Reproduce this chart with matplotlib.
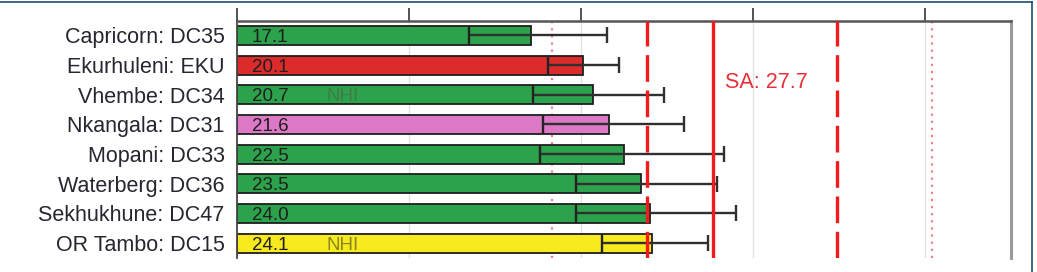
import matplotlib
matplotlib.use("Agg")
import matplotlib.pyplot as plt
from matplotlib.lines import Line2D

plt.rcParams['font.family'] = ['Liberation Sans', 'DejaVu Sans']

labels = ["Capricorn: DC35", "Ekurhuleni: EKU", "Vhembe: DC34", "Nkangala: DC31",
          "Mopani: DC33", "Waterberg: DC36", "Sekhukhune: DC47", "OR Tambo: DC15"]
values = [17.1, 20.1, 20.7, 21.6, 22.5, 23.5, 24.0, 24.1]
ci_low = [13.5, 18.1, 17.2, 17.8, 17.6, 19.7, 19.7, 21.2]
ci_high = [21.5, 22.2, 24.8, 26.0, 28.3, 27.9, 29.0, 27.4]
bar_colors = ["#2ca24c", "#db2b2b", "#2ca24c", "#dc78c6",
              "#2ca24c", "#2ca24c", "#2ca24c", "#f7ea1e"]
nhi_flags = [False, False, True, False, False, False, False, True]
nhi_colors = {2: "#3f7a47", 7: "#8a861e"}
sa_value = 27.7
dashed_lines = [23.85, 34.9]
dotted_lines = [18.3, 40.4]
xticks = [0, 10, 20, 30, 40]
xmax = 45

fig = plt.figure(figsize=(10.37, 2.72), dpi=100)
ax = fig.add_axes([237/1037, 1-258/272, (1011-237)/1037, (258-20.5)/272])

n = len(labels)
ys = list(range(n))
bh = 0.64

for x in xticks[1:]:
    ax.axvline(x, color="#e2e2e2", lw=1, zorder=0)

ax.barh(ys, values, height=bh, color=bar_colors, edgecolor="#1e1e1e", linewidth=1.3, zorder=2)

for y, lo, hi in zip(ys, ci_low, ci_high):
    ax.hlines(y, lo, hi, color="#303030", lw=1.7, zorder=3)
    ax.vlines(lo, y - bh/2, y + bh/2, color="#222222", lw=1.7, zorder=3)
    ax.vlines(hi, y - bh*0.42, y + bh*0.42, color="#303030", lw=1.7, zorder=3)

for y, v in zip(ys, values):
    ax.text(0.85, y, f"{v:.1f}", ha="left", va="center_baseline", fontsize=13.5,
            color="#1e1e1e", zorder=4)
for i, f in enumerate(nhi_flags):
    if f:
        ax.text(5.2, i, "NHI", ha="left", va="center_baseline", fontsize=13.5,
                color=nhi_colors[i], zorder=4)

for x in dotted_lines:
    ax.axvline(x, color="#e8848f", lw=1.6, ls=(0, (1, 2.2)), zorder=1)
for x in dashed_lines:
    ax.axvline(x, color="#f21a1a", lw=2.4, ls=(0, (8, 2.6)), zorder=5)
ax.axvline(sa_value, color="#f21a1a", lw=2.4, zorder=5)
ax.text(sa_value + 0.7, 1.5, f"SA: {sa_value}", ha="left", va="center_baseline",
        fontsize=15.5, color="#e8303a")

ax.set_xlim(0, xmax)
ax.set_ylim(n - 0.5, -0.5)
ax.set_yticks(ys)
ax.set_yticklabels(labels, fontsize=15.5, color="#262630")
ax.tick_params(axis="y", length=0, pad=9)
ax.xaxis.tick_top()
ax.set_xticks(xticks)
ax.set_xticklabels([])
ax.tick_params(axis="x", direction="out", length=9.5, width=1.3, color="#444444")

ax.spines["bottom"].set_visible(False)
ax.spines["top"].set_color("#555555")
ax.spines["top"].set_linewidth(1.8)
ax.spines["left"].set_color("#444444")
ax.spines["left"].set_linewidth(1.3)
ax.spines["right"].set_color("#9a9a9a")
ax.spines["right"].set_linewidth(2.2)

fig.add_artist(Line2D([0, 1032/1037], [1-1.5/272, 1-1.5/272], transform=fig.transFigure,
                      color="#1f4e6e", lw=1.2))
fig.add_artist(Line2D([1032/1037, 1032/1037], [0, 1-1.5/272], transform=fig.transFigure,
                      color="#1f4e6e", lw=1.2))

fig.savefig("out.png", dpi=100)
